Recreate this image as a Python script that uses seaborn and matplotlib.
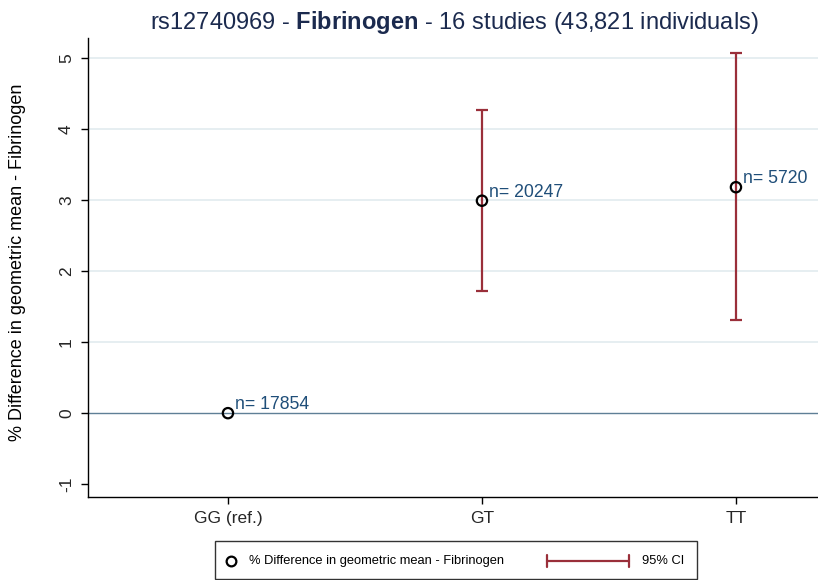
import matplotlib
matplotlib.use("Agg")
import matplotlib.pyplot as plt
from matplotlib.lines import Line2D
from matplotlib.patches import Rectangle
import seaborn as sns
import pandas as pd

categories = ["GG (ref.)", "GT", "TT"]
estimates = [0.0, 2.99, 3.18]
ci_low = [None, 1.72, 1.31]
ci_high = [None, 4.27, 5.07]
n_labels = ["n= 17854", "n= 20247", "n= 5720"]
y_ticks = [-1, 0, 1, 2, 3, 4, 5]

sns.set_theme(style="white")
plt.rcParams["font.family"] = ["Liberation Sans", "DejaVu Sans"]
plt.rcParams["mathtext.fontset"] = "custom"
plt.rcParams["mathtext.rm"] = "Liberation Sans"
plt.rcParams["mathtext.bf"] = "Liberation Sans:bold"

TITLE_C = "#1b2a4e"
CI_C = "#9a2f3a"
ANN_C = "#1f4e79"
GRID_C = "#e2ebef"
ZERO_C = "#5f7f96"

W, H = 818, 580
def fx(px): return px / W
def fy(py): return 1 - py / H

fig = plt.figure(figsize=(8.18, 5.8), dpi=100)
ax = fig.add_axes([88/818, 1-497/580, 1-88/818, (497-38)/580])

df = pd.DataFrame({"pos": list(range(len(categories))), "est": estimates, "cat": categories})

# grid lines
for yv in y_ticks[2:]:
    ax.axhline(yv, color=GRID_C, lw=1.2, zorder=0)
ax.axhline(0, color=ZERO_C, lw=1.0, zorder=1)

# confidence intervals
for i in range(len(categories)):
    if ci_low[i] is not None:
        ax.errorbar([i], [estimates[i]],
                     yerr=[[estimates[i]-ci_low[i]], [ci_high[i]-estimates[i]]],
                     fmt="none", ecolor=CI_C, elinewidth=1.6, capsize=4.5, capthick=1.6, zorder=2)

sns.scatterplot(data=df, x="pos", y="est", ax=ax, marker="o", s=55,
                facecolor="none", edgecolor="black", linewidth=1.6, zorder=3, legend=False)

for i in range(len(categories)):
    ax.annotate(n_labels[i], (i, estimates[i]), xytext=(5, 0), textcoords="offset points",
                ha="left", va="bottom", fontsize=12.7, color=ANN_C)

ax.set_xlim(-0.551, 2.323)
ax.set_ylim(-1.18, 5.28)
ax.set_xticks(range(len(categories)))
ax.set_xticklabels(categories, fontsize=12.5)
ax.set_yticks(y_ticks)
ax.set_yticklabels([str(v) for v in y_ticks], rotation=90, va="center", fontsize=12.5)
ax.tick_params(axis="both", direction="out", length=5, width=1, color="black", pad=5,
               bottom=True, left=True)
ax.set_xlabel("")
ax.set_ylabel("")
for s in ["top", "right"]:
    ax.spines[s].set_visible(False)
for s in ["left", "bottom"]:
    ax.spines[s].set_color("black")
    ax.spines[s].set_linewidth(1.0)

fig.text(fx(18), fy(262), "% Difference in geometric mean - Fibrinogen", fontsize=13,
         rotation=90, ha="center", va="center", color="black")

fig.text(fx(454), fy(22), r"rs12740969 - $\mathbf{Fibrinogen}$ - 16 studies (43,821 individuals)",
         fontsize=17, color=TITLE_C, ha="center", va="center")

# legend (manual, figure coordinates in pixels)
fig.patches.append(Rectangle((fx(215), fy(579)), fx(697) - fx(215), fy(541) - fy(579),
                             transform=fig.transFigure, fill=False, edgecolor="#333333", lw=1.0))
fig.lines.append(Line2D([fx(231)], [fy(561)], transform=fig.transFigure, marker="o",
                        markersize=7, markerfacecolor="none", markeredgecolor="black",
                        markeredgewidth=1.6, linestyle="none"))
fig.text(fx(249), fy(561), "% Difference in geometric mean - Fibrinogen", fontsize=9.3,
         va="center", ha="left", color="black")
fig.lines.append(Line2D([fx(547), fx(629)], [fy(561), fy(561)], transform=fig.transFigure,
                        color=CI_C, lw=1.6))
for xx in (547, 629):
    fig.lines.append(Line2D([fx(xx), fx(xx)], [fy(555), fy(567)], transform=fig.transFigure,
                            color=CI_C, lw=1.6))
fig.text(fx(642), fy(561), "95% CI", fontsize=9.3, va="center", ha="left", color="black")

fig.savefig("out.png", dpi=100)
